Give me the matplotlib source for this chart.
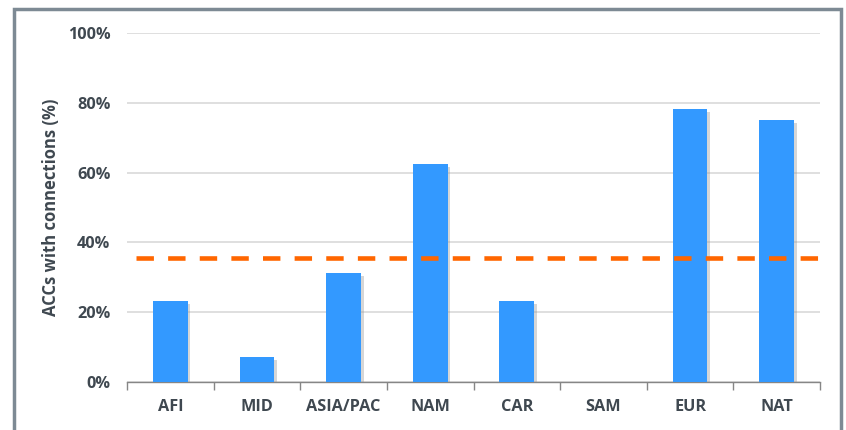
import matplotlib.pyplot as plt
import matplotlib.patheffects as pe
from matplotlib.patches import Rectangle
from matplotlib.ticker import FuncFormatter

regions = ["AFI", "MID", "ASIA/PAC", "NAM", "CAR", "SAM", "EUR", "NAT"]
connected_pct = [23.1, 7.1, 31.3, 62.5, 23.1, 0.0, 78.3, 75.0]
overall_pct = 35.6

plt.rcParams['font.family'] = ['Open Sans', 'DejaVu Sans']
text_col = "#3F4850"

fig = plt.figure(figsize=(8.46, 4.30), dpi=100)
ax = fig.add_axes([127 / 846, 1 - 382 / 430, 693 / 846, 349 / 430])

# frame around the whole chart
fig.patches.append(Rectangle((14 / 846, -0.05), (841 - 14) / 846, 1.05 - 9.5 / 430,
                             transform=fig.transFigure, fill=False,
                             edgecolor="#7D8A94", linewidth=2.5))

x = range(len(regions))
bars = ax.bar(x, connected_pct, width=0.4, color="#3399FF", zorder=3)
for b in bars:
    b.set_path_effects([pe.SimplePatchShadow(offset=(2, -2), shadow_rgbFace="#999999", alpha=0.4),
                        pe.Normal()])

# overall average across all regions
ax.axhline(overall_pct, xmin=9 / 693, xmax=1.013, color="#FF6600",
           linewidth=3.3, dashes=(3.8, 3.1), zorder=4, clip_on=False)

ax.set_xlim(-0.5, len(regions) - 0.5)
ax.set_ylim(0, 100)
ax.set_yticks(range(0, 101, 20))
ax.yaxis.set_major_formatter(FuncFormatter(lambda v, _: f"{int(v)}%"))
ax.grid(axis="y", color="#D9D9D9", linewidth=1.2, zorder=0)
ax.set_axisbelow(True)

ax.set_xticks(list(x))
ax.set_xticklabels(regions)
ax.set_xticks([i - 0.5 for i in range(len(regions) + 1)], minor=True)
ax.tick_params(axis="x", which="major", length=0, pad=12,
               labelsize=11.7, labelcolor=text_col)
ax.tick_params(axis="x", which="minor", length=6, width=1, color="#868686", direction="out")
ax.tick_params(axis="y", length=0, pad=12, labelsize=11.7, labelcolor=text_col)
for lab in ax.get_xticklabels() + ax.get_yticklabels():
    lab.set_fontweight("bold")

for s in ["top", "right", "left"]:
    ax.spines[s].set_visible(False)
ax.spines["bottom"].set_color("#868686")
ax.spines["bottom"].set_linewidth(1)

ax.set_ylabel("ACCs with connections (%)", fontsize=12, fontweight="bold",
              color=text_col)
ax.yaxis.set_label_coords(-0.096, 0.5)

fig.savefig("out.png", dpi=100)
